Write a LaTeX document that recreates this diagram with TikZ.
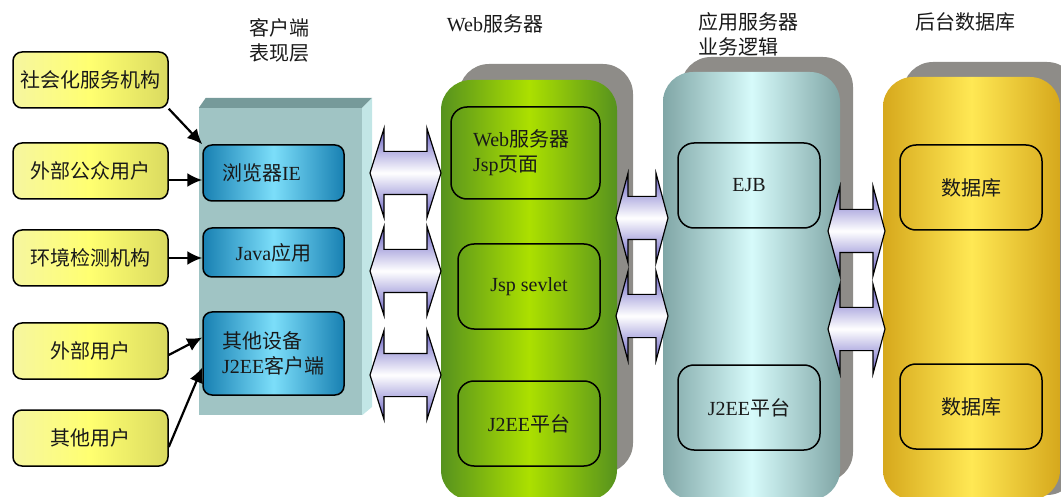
\documentclass[tikz,border=0pt]{standalone}
\usepackage{fontspec}
\setmainfont{Liberation Serif}
\newfontfamily\cjk{Noto Sans CJK SC}
\usetikzlibrary{shapes.arrows,arrows.meta,calc}
\newcommand{\zh}[1]{{\cjk #1}}
\definecolor{ylwA}{RGB}{246,246,160}
\definecolor{ylwB}{RGB}{255,255,112}
\definecolor{ylwC}{RGB}{218,218,96}
\definecolor{bluA}{RGB}{24,128,178}
\definecolor{bluB}{RGB}{124,222,250}
\definecolor{slabF}{RGB}{160,196,196}
\definecolor{slabT}{RGB}{118,154,154}
\definecolor{slabR}{RGB}{194,230,230}
\definecolor{grnA}{RGB}{86,146,30}
\definecolor{grnB}{RGB}{172,224,0}
\definecolor{tealA}{RGB}{128,166,166}
\definecolor{tealB}{RGB}{214,250,250}
\definecolor{goldA}{RGB}{214,168,28}
\definecolor{goldB}{RGB}{255,232,84}
\definecolor{shadow}{RGB}{142,140,136}
\definecolor{lavA}{RGB}{104,96,196}
\definecolor{txt}{RGB}{25,25,25}
\begin{document}
\begin{tikzpicture}[x=1pt, y=-1pt, font=\fontsize{20}{25}\selectfont,
    user/.style={draw, line width=1.5pt, rounded corners=9pt, minimum width=155, minimum height=56, inner sep=0,
        left color=ylwA, right color=ylwC, middle color=ylwB, text=txt},
    client/.style={draw, line width=1.5pt, rounded corners=9pt, minimum width=141, inner sep=0, text width=103, align=left,
        left color=bluA, right color=bluA, middle color=bluB, text=txt},
    colshadow/.style={fill=shadow, rounded corners=30pt, inner sep=0},
    column/.style={rounded corners=30pt, inner sep=0},
    part/.style={draw, line width=1.5pt, rounded corners=16pt, minimum width=142, minimum height=85, inner sep=0, text=txt},
    link/.style={double arrow, draw, line width=1.2pt, inner xsep=0, inner ysep=21, double arrow head extend=23,
        top color=lavA, bottom color=lavA, middle color=white},
    feed/.style={-{Latex[length=15pt,width=14pt]}, line width=2.2pt},
    head/.style={inner sep=0, text=txt}]
\useasboundingbox (0,0) rectangle (1061,497);
\clip (0,0) rectangle (1061,497);

% headers
\node[head, align=center] (hcl) at (279,40) {\zh{客户端}\\\zh{表现层}};
\node[head] (hweb) at (495,24) {Web\zh{服务器}};
\node[head, anchor=west, align=left] (happ) at (698,34.5) {\zh{应用服务器}\\\zh{业务逻辑}};
\node[head] (hdb) at (965,22) {\zh{后台数据库}};

% users
\node[user] (soc) at (90.5,80) {\zh{社会化服务机构}};
\node[user] (pub) at (90.5,171) {\zh{外部公众用户}};
\node[user] (env) at (90.5,258) {\zh{环境检测机构}};
\node[user] (ext) at (90.5,351) {\zh{外部用户}};
\node[user] (oth) at (90.5,438) {\zh{其他用户}};

% client slab
\node[fill=slabF, minimum width=163, minimum height=307, inner sep=0] (slab) at (280.5,261.5) {};
\fill[slabT] (slab.north west) -- ++(7,-10) -- ($(slab.north east)+(10,-10)$) -- (slab.north east) -- cycle;
\fill[slabR] (slab.north east) -- ++(10,-10) -- ++(0,309) -- (slab.south east) -- cycle;
\node[client, minimum height=56] (ie) at (273.5,173) {\zh{浏览器}IE};
\node[client, minimum height=49, align=center] (java) at (273.5,252.5) {Java\zh{应用}};
\node[client, minimum height=83] (other) at (273.5,353.5) {\zh{其他设备}\\J2EE\zh{客户端}};

\draw[feed] (soc.south east) -- (ie.north west);
\draw[feed] ([yshift=-9pt]pub.east) -- ([yshift=-7pt]ie.west);
\draw[feed] (env.east) -- (env.east -| java.west);
\draw[feed] ([yshift=-4pt]ext.east) -- ([yshift=16pt]other.west);
\draw[feed] ([yshift=-9pt]oth.east) -- ([yshift=-14pt]other.west);

% web server
\node[colshadow, minimum width=174, minimum height=409] (webS) at (546,268.5) {};
\node[column, left color=grnA, right color=grnA, middle color=grnB, minimum width=176, minimum height=420] (web) at (529,290) {};
\node[part, minimum width=149, minimum height=92, text width=105, align=left] (jsp) at (525.5,153) {Web\zh{服务器}\\Jsp\zh{页面}};
\node[part] (servlet) at (529,286.5) {Jsp sevlet};
\node[part] (webj) at (529,423.5) {J2EE\zh{平台}};

% application server
\node[colshadow, minimum width=172, minimum height=425] (appS) at (767,269.5) {};
\node[column, left color=tealA, right color=tealA, middle color=tealB, minimum width=177, minimum height=428] (app) at (751.5,286) {};
\node[part] (ejb) at (749,185.5) {EJB};
\node[part] (appj) at (749,407.5) {J2EE\zh{平台}};

% database
\node[colshadow, minimum width=174, minimum height=433] (dbS) at (990,278.5) {};
\node[column, left color=goldA, right color=goldA, middle color=goldB, minimum width=177, minimum height=423] (db) at (971.5,288.5) {};
\node[part] (db1) at (971,187.5) {\zh{数据库}};
\node[part] (db2) at (971,406.5) {\zh{数据库}};

% links
\node[link, minimum height=71, double arrow tip angle=145] (l1) at (405.5,173) {};
\node[link, minimum height=71, double arrow tip angle=145] (l2) at (405.5,271) {};
\node[link, minimum height=71, double arrow tip angle=145] (l3) at (405.5,375) {};
\node[link, minimum height=52, double arrow tip angle=150] (m1) at (642,218) {};
\node[link, minimum height=52, double arrow tip angle=150] (m2) at (642,316) {};
\node[link, minimum height=57, double arrow tip angle=150] (r1) at (856.5,231) {};
\node[link, minimum height=57, double arrow tip angle=150] (r2) at (856.5,329) {};
\end{tikzpicture}
\end{document}
